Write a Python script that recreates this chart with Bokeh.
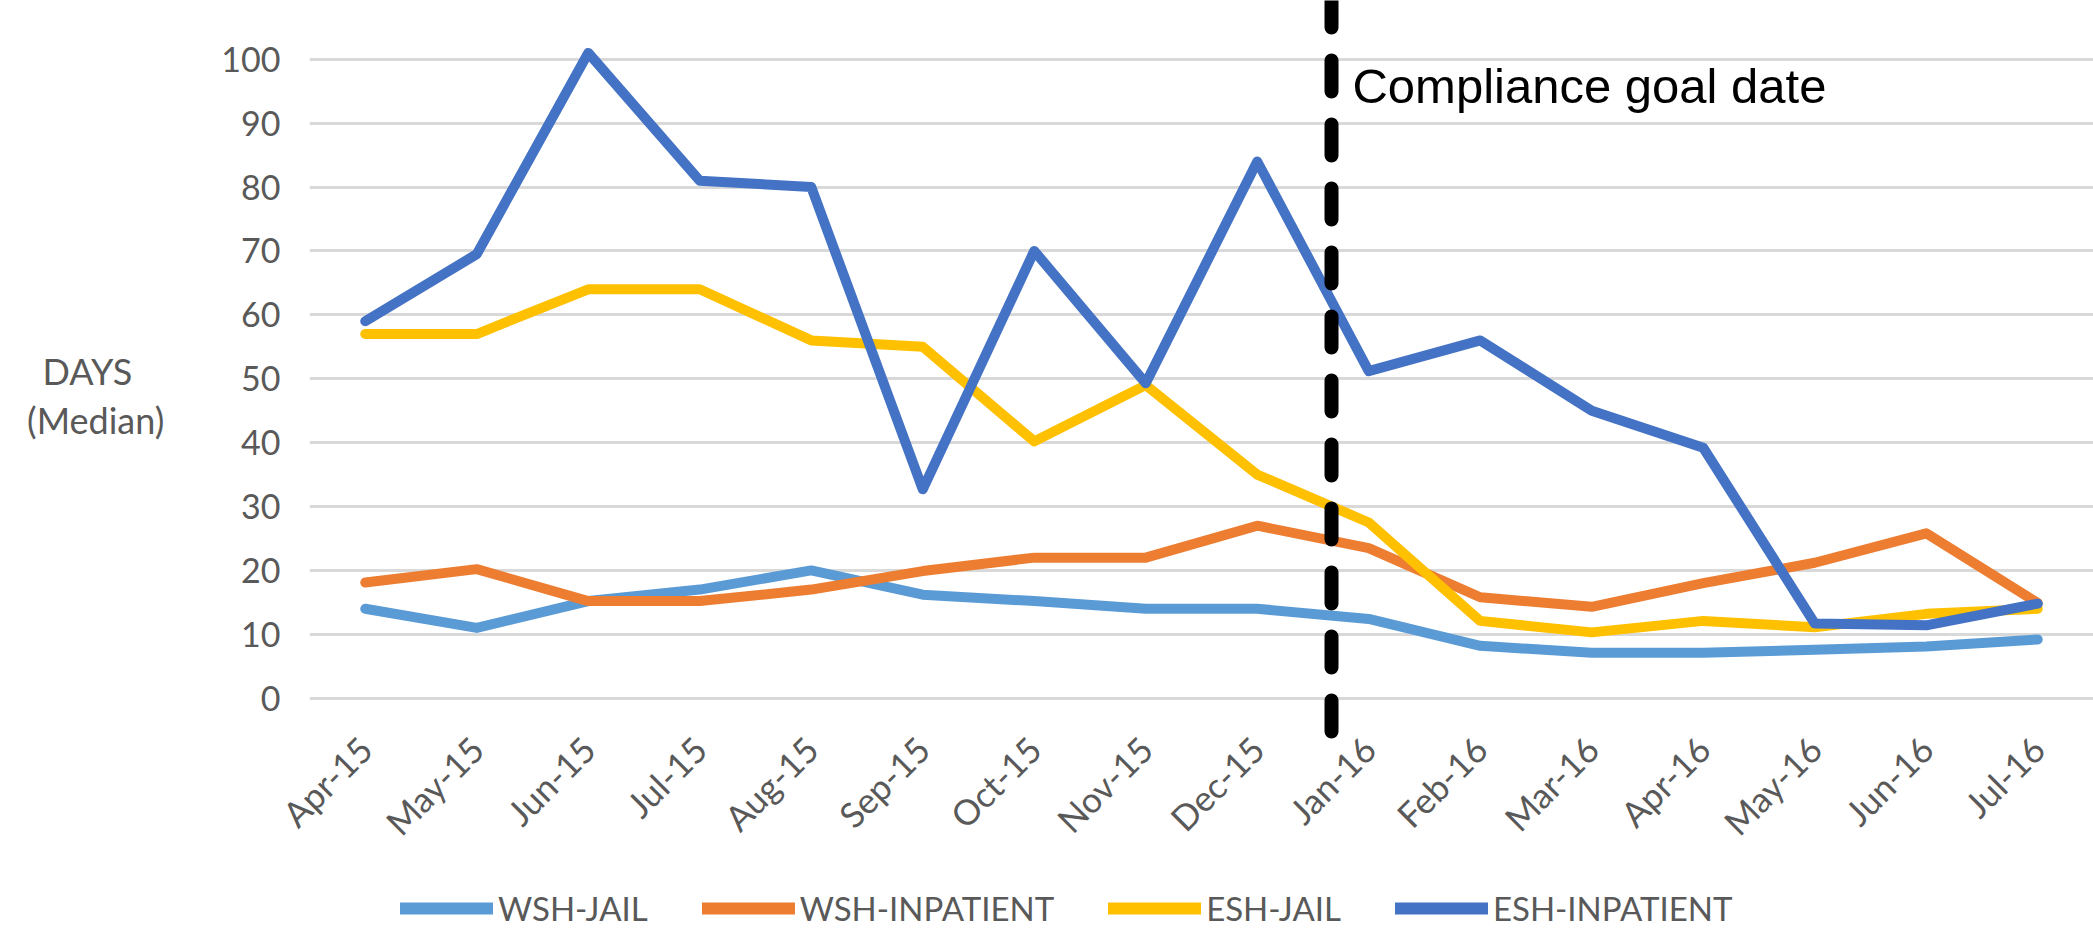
from bokeh.plotting import figure
from bokeh.models import ColumnDataSource, FixedTicker, Legend, LegendItem
from bokeh.layouts import column
from bokeh.core.properties import value
from bokeh.embed import file_html
from bokeh.resources import INLINE
import math

months = ["Apr-15", "May-15", "Jun-15", "Jul-15", "Aug-15", "Sep-15", "Oct-15", "Nov-15",
          "Dec-15", "Jan-16", "Feb-16", "Mar-16", "Apr-16", "May-16", "Jun-16", "Jul-16"]
wsh_jail = [14, 11, 15.2, 17, 20, 16.2, 15.2, 14, 14, 12.4, 8.2, 7.1, 7.1, 7.6, 8.1, 9.2]
wsh_inpatient = [18.1, 20.2, 15.2, 15.2, 17, 19.9, 22, 22, 27, 23.5, 15.8, 14.3, 18, 21.2, 25.8, 14.9]
esh_jail = [57, 57, 64, 64, 56, 55, 40.2, 49, 35, 27.5, 12.1, 10.3, 12.1, 11.1, 13.2, 14]
esh_inpatient = [59, 69.5, 101, 81, 80, 32.7, 70, 49.3, 84, 51.2, 56, 45, 39.2, 11.7, 11.4, 14.8]
series_names = ["WSH-JAIL", "WSH-INPATIENT", "ESH-JAIL", "ESH-INPATIENT"]
series_colors = ["#5B9BD5", "#ED7D31", "#FFC000", "#4472C4"]
y_ticks = list(range(0, 101, 10))
goal_position = 8.666          # between Dec-15 and Jan-16
goal_label = "Compliance goal date"

idx = list(range(len(months)))
src = ColumnDataSource(dict(x=idx, wsh_jail=wsh_jail, wsh_inpatient=wsh_inpatient,
                            esh_jail=esh_jail, esh_inpatient=esh_inpatient))
cols = ["wsh_jail", "wsh_inpatient", "esh_jail", "esh_inpatient"]

GREY = "#595959"
Y_TOP = 109.2
Y_BOT = -6.62
p = figure(width=2093, height=870, output_backend="svg", toolbar_location=None,
           x_range=(-0.5, 15.5), y_range=(Y_BOT, Y_TOP),
           min_border_left=309, min_border_right=0, min_border_top=0, min_border_bottom=130)
p.outline_line_color = None

# x axis
p.xaxis.ticker = FixedTicker(ticks=idx)
p.xaxis.major_label_overrides = {i: m for i, m in enumerate(months)}
p.xaxis.major_label_orientation = math.pi / 4
p.xaxis.axis_line_color = None
p.xaxis.major_tick_line_color = None
p.xaxis.minor_tick_line_color = None
p.xaxis.major_tick_out = 0
p.xaxis.major_label_standoff = 2
p.xaxis.major_label_text_font = "Lato"
p.xaxis.major_label_text_font_size = "35px"
p.xaxis.major_label_text_color = GREY

# y axis
p.yaxis.ticker = FixedTicker(ticks=y_ticks)
p.yaxis.axis_line_color = None
p.yaxis.major_tick_line_color = None
p.yaxis.minor_tick_line_color = None
p.yaxis.major_tick_out = 0
p.yaxis.major_label_standoff = 29
p.yaxis.major_label_text_font = "Lato"
p.yaxis.major_label_text_font_size = "34px"
p.yaxis.major_label_text_color = GREY
p.yaxis.axis_label = "\u00a0\nDAYS\u00a0\u00a0\u00a0\u2009\n(Median)"
p.yaxis.axis_label_orientation = "horizontal"
p.yaxis.axis_label_text_font = "Lato"
p.yaxis.axis_label_text_font_style = "normal"
p.yaxis.axis_label_text_font_size = "36px"
p.yaxis.axis_label_text_line_height = 1.13
p.yaxis.axis_label_text_color = GREY
p.yaxis.axis_label_standoff = 54

p.xgrid.grid_line_color = None
p.ygrid.ticker = FixedTicker(ticks=y_ticks)
p.ygrid.grid_line_color = "#D9D9D9"
p.ygrid.grid_line_width = 3

for col, color in zip(cols, series_colors):
    p.line("x", col, source=src, line_color=color, line_width=10,
           line_join="round", line_cap="round")

# compliance goal date marker
p.line([goal_position, goal_position], [Y_TOP, Y_BOT], line_color="black", line_width=14,
       line_dash="31 33", line_dash_offset=4, line_cap="round")
p.text(x=[goal_position + 0.188], y=[95.8], text=[goal_label], text_font=value("Liberation Sans"),
       text_font_size="49px", text_color="black", text_baseline="alphabetic", text_align="left")

# legend strip below the chart (its series renderers sit outside the visible range)
lg = figure(width=2093, height=59, output_backend="svg", toolbar_location=None,
            x_range=(100, 101), y_range=(1000, 1001), min_border=0)
lg.axis.visible = False
lg.grid.grid_line_color = None
lg.outline_line_color = None
items = []
for name, col, color in zip(series_names, cols, series_colors):
    r = lg.line("x", col, source=src, line_color=color, line_width=12, line_cap="round")
    items.append(LegendItem(label=name, renderers=[r]))
legend = Legend(items=items, orientation="horizontal", location=(91, 1.5),
                label_text_font="Lato", label_text_font_size="33px", label_text_color=GREY,
                label_height=34, glyph_width=93, glyph_height=34, spacing=54, label_standoff=5,
                padding=0, margin=0, border_line_color=None, background_fill_alpha=0)
lg.add_layout(legend, "center")

layout = column(p, lg, spacing=0)
open("out.html", "w").write(file_html(layout, INLINE))
